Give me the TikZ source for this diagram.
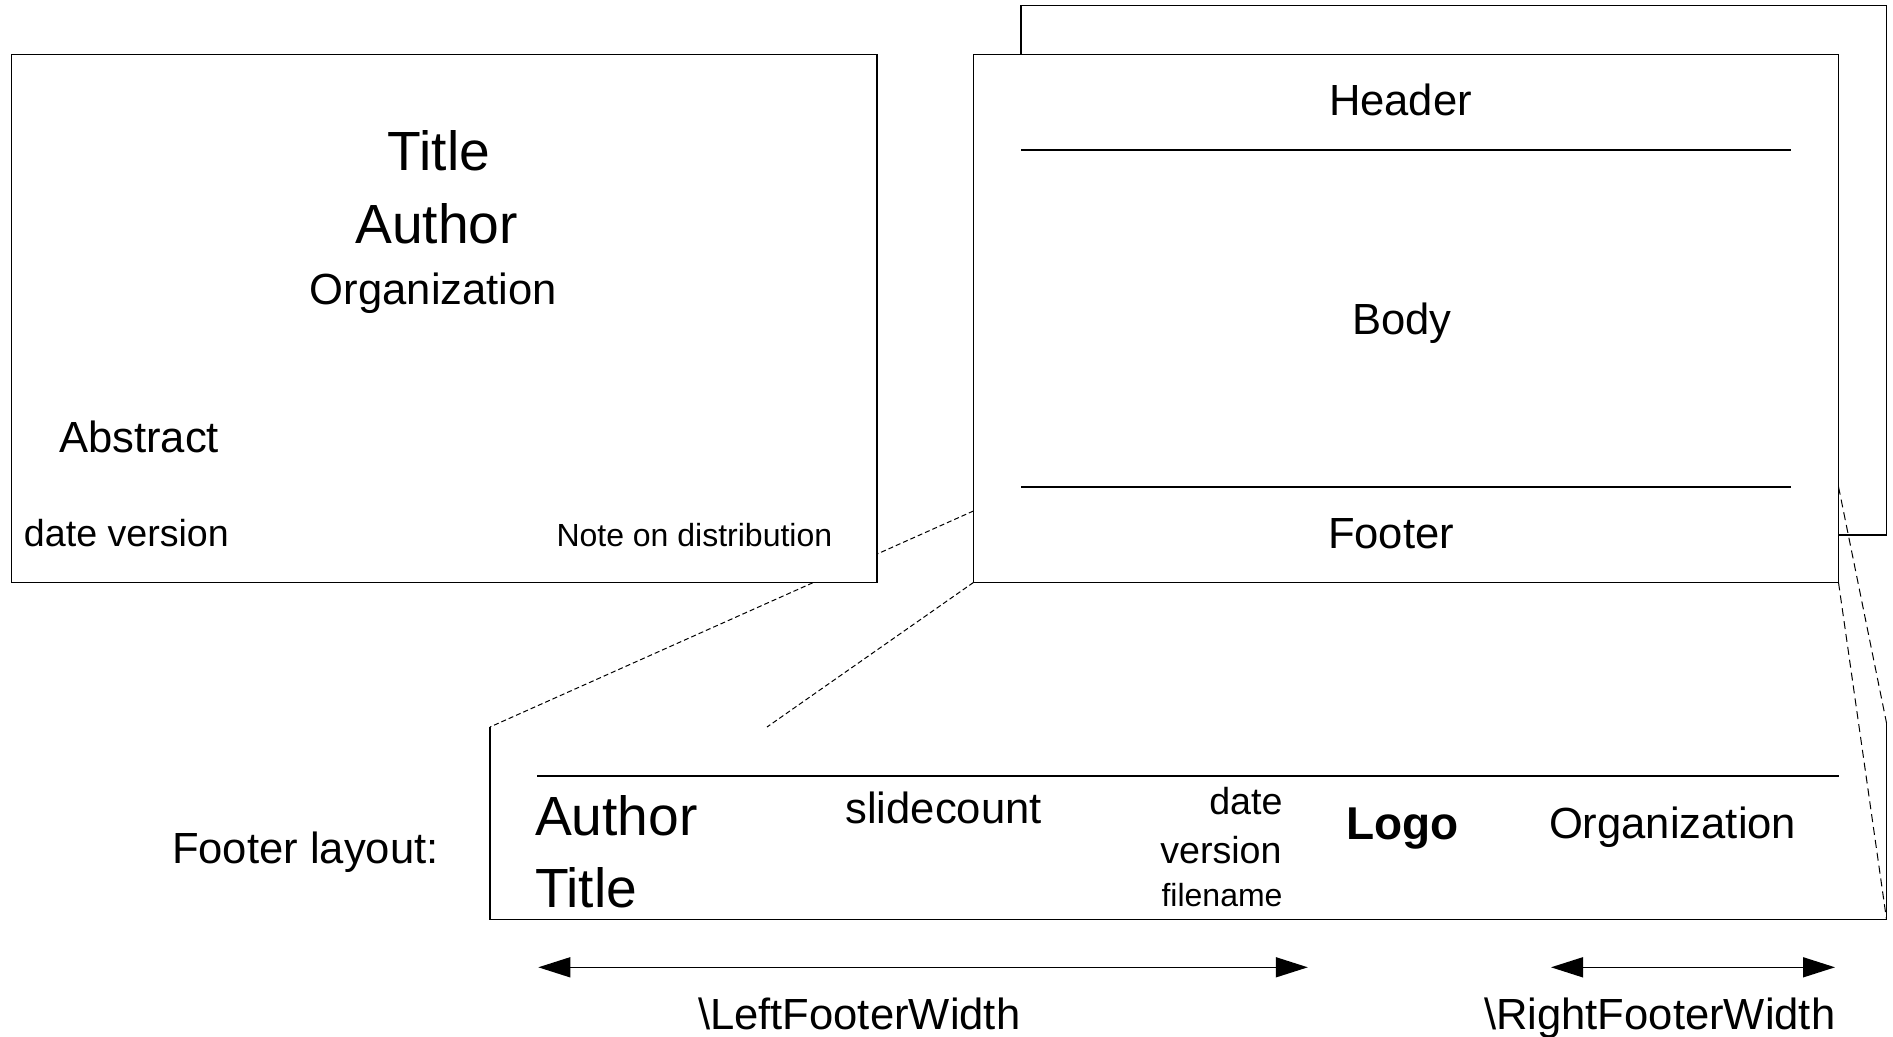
\documentclass[tikz,border=0pt]{standalone}
\usepackage{fontspec}
\setmainfont{Liberation Sans}
\usetikzlibrary{arrows.meta}
\begin{document}
\begin{tikzpicture}[x=0.5pt,y=-0.5pt,
  box/.style={draw=black,line width=0.75pt,fill=white},
  rule/.style={draw=black,line width=1pt},
  zoomline/.style={draw=black,line width=0.5pt,dash pattern=on 2.5pt off 1.5pt},
  zoomlineR/.style={draw=black,line width=0.5pt,dash pattern=on 4pt off 2.5pt},
  txt/.style={inner sep=0pt,outer sep=0pt},
  big/.style={txt,font=\fontsize{27.6pt}{30pt}\selectfont},
  mid/.style={txt,font=\fontsize{21.8pt}{24pt}\selectfont},
  sml/.style={txt,font=\fontsize{18.8pt}{21pt}\selectfont},
  tny/.style={txt,font=\fontsize{16pt}{18pt}\selectfont},
  logo/.style={txt,font=\bfseries\fontsize{23pt}{25pt}\selectfont},
  dim/.style={line width=0.75pt,{Triangle[length=16pt,width=10pt]}-{Triangle[length=16pt,width=10pt]}}]

\useasboundingbox (0,0) rectangle (1893,1037);

% coordinates
\coordinate (sfl) at (973.4,511);
\coordinate (sbl) at (973.4,582.5);
\coordinate (sfr) at (1838.5,486.8);
\coordinate (sbr) at (1838.5,582.5);
\coordinate (fbtl) at (490,727);
\coordinate (fbbl) at (490,919.3);
\coordinate (fbbr) at (1886.5,919.3);
\coordinate (fbtr) at (1886.5,723);
\coordinate (fbmid) at (767,727);

% dashed zoom line behind the title page
\draw[zoomline] (sfl) -- (fbtl);

% title page
\draw[box] (11.5,54.3) rectangle (877,582.5);
\node[big,anchor=base] (ttitle) at (439,170.7) {Title};
\node[big,anchor=base] (tauthor) at (436.5,244) {Author};
\node[mid,anchor=base] (torg) at (433.5,305) {Organization};
\node[mid,anchor=base west] (tabs) at (59,452.7) {Abstract};
\node[sml,anchor=base west] (tdate) at (24,546.7) {date version};
\node[tny,anchor=base west] (tnote) at (556.5,546) {Note on distribution};

% slides
\draw[box] (1021,5.7) rectangle (1886.5,535);
\draw[box] (973.4,54.3) rectangle (1838.5,582.5);
\draw[rule] (1021,150) -- (1791,150);
\draw[rule] (1021,486.8) -- (1791,486.8);
\node[mid,anchor=base] (sheader) at (1400.5,115.6) {Header};
\node[mid,anchor=base] (sbody) at (1402,335) {Body};
\node[mid,anchor=base] (sfooter) at (1391,548) {Footer};

% zoom lines
\draw[zoomline] (sbl) -- (fbmid);
\draw[zoomlineR] (sfr) -- (fbtr);
\draw[zoomlineR] (sbr) -- (fbbr);

% footer layout box
\draw[line width=0.75pt] (fbtl) -- (fbbl) -- (fbbr) -- (fbtr);
\draw[rule] (537,775.5) -- (1838.5,775.5);
\node[mid,anchor=base west] (flabel) at (172,863.3) {Footer layout:};
\node[big,anchor=base west] (fauthor) at (535,835) {Author};
\node[big,anchor=base west] (ftitle) at (535,907.3) {Title};
\node[mid,anchor=base west] (fslide) at (845.5,823) {slidecount};
\node[sml,anchor=base east] (fdate) at (1282.5,814) {date};
\node[sml,anchor=base east] (fversion) at (1281.5,863.3) {version};
\node[tny,anchor=base east] (ffile) at (1282.5,906.7) {filename};
\node[logo,anchor=base west] (flogo) at (1346.6,839.3) {Logo};
\node[mid,anchor=base west] (forg) at (1549,838) {Organization};

% width arrows
\coordinate (la) at (538.3,967.3);
\coordinate (lb) at (1307.8,967.3);
\coordinate (ra) at (1551,967.3);
\coordinate (rb) at (1835,967.3);
\draw[dim] (la) -- (lb);
\draw[dim] (ra) -- (rb);
\node[mid,anchor=base west] (lw) at (698,1029) {\textbackslash LeftFooterWidth};
\node[mid,anchor=base west] (rw) at (1484,1029) {\textbackslash RightFooterWidth};
\end{tikzpicture}
\end{document}
